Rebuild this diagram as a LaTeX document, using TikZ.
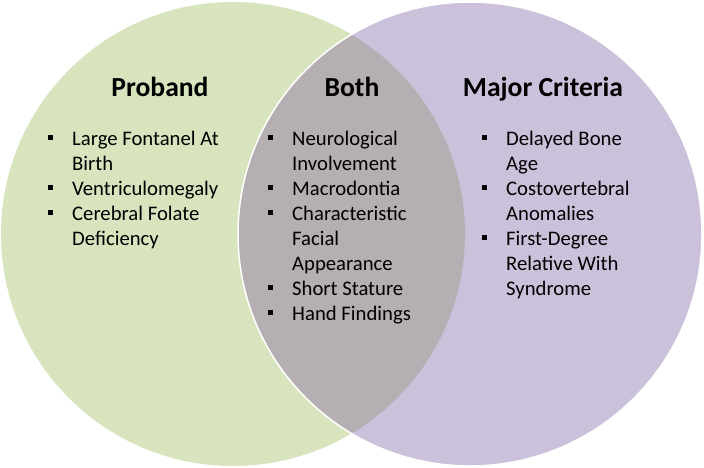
\documentclass[tikz,border=0pt]{standalone}
\usepackage{fontspec}
\setmainfont{Carlito}
\usepackage{xcolor}
\usetikzlibrary{positioning}

\definecolor{probandgreen}{RGB}{215,228,189}
\definecolor{criteriapurple}{RGB}{204,193,218}
\definecolor{bothgray}{RGB}{181,174,178}

\newcommand{\sqbullet}{\rule[6pt]{5pt}{5pt}}

\tikzset{
  venntitle/.style={font=\fontsize{27.6}{33}\selectfont\bfseries, anchor=base, inner sep=0pt},
  itemlist/.style={font=\fontsize{20.7}{25}\selectfont, anchor=base west, inner sep=0pt, align=left},
}

\begin{document}
\begin{tikzpicture}[x=1pt, y=-1pt]
    \useasboundingbox (0, 0) rectangle (704, 468);

    % circles
    \fill [probandgreen] (233, 234) circle [radius=232pt];
    \fill [criteriapurple] (470, 234) circle [radius=232pt];
    \begin{scope}
        \clip (233, 234) circle [radius=232pt];
        \fill [bothgray] (470, 234) circle [radius=232pt];
    \end{scope}
    \draw [white, line width=1.5pt] (470, 234) circle [radius=232pt];

    % Proband
    \node [venntitle] (proband) at (160, 97) {Proband};
    \node [itemlist] (probandlist) at (48, 146) {%
        \begin{tabular}[t]{@{}l@{\hspace{19pt}}l@{}}
            \sqbullet & Large Fontanel At \\
                      & Birth \\
            \sqbullet & Ventriculomegaly \\
            \sqbullet & Cerebral Folate \\
                      & Deficiency
        \end{tabular}};

    % Both
    \node [venntitle] (both) at (352, 97) {Both};
    \node [itemlist] (bothlist) at (268, 146) {%
        \begin{tabular}[t]{@{}l@{\hspace{19pt}}l@{}}
            \sqbullet & Neurological \\
                      & Involvement \\
            \sqbullet & Macrodontia \\
            \sqbullet & Characteristic \\
                      & Facial \\
                      & Appearance \\
            \sqbullet & Short Stature \\
            \sqbullet & Hand Findings
        \end{tabular}};

    % Major Criteria
    \node [venntitle] (major) at (543, 97) {Major Criteria};
    \node [itemlist] (majorlist) at (482, 146) {%
        \begin{tabular}[t]{@{}l@{\hspace{19pt}}l@{}}
            \sqbullet & Delayed Bone \\
                      & Age \\
            \sqbullet & Costovertebral \\
                      & Anomalies \\
            \sqbullet & First-Degree \\
                      & Relative With \\
                      & Syndrome
        \end{tabular}};
\end{tikzpicture}
\end{document}
